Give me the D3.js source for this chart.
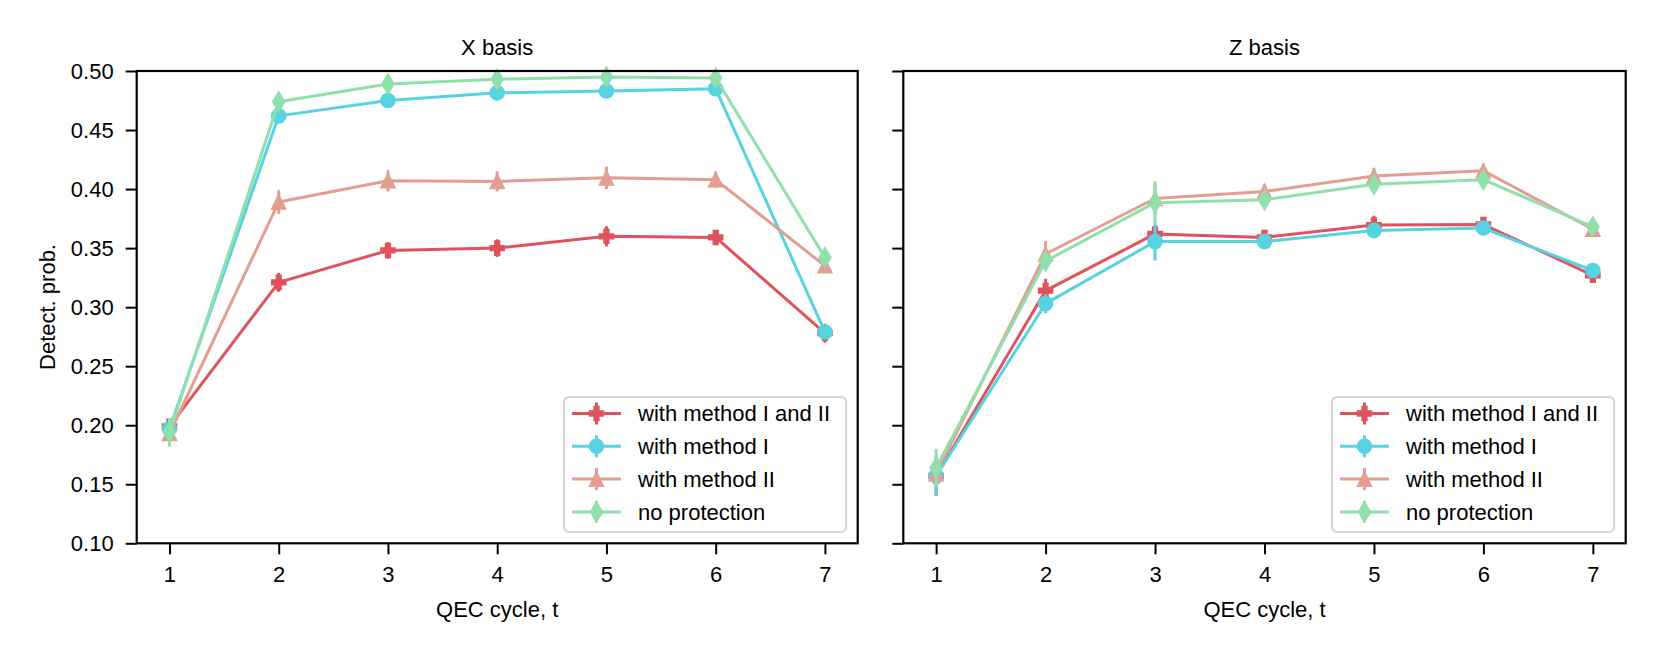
<!DOCTYPE html>
<html>
<head>
<meta charset="utf-8">
<script src="https://cdn.jsdelivr.net/npm/d3@7"></script>
<style>
  html, body { margin: 0; padding: 0; background: #fff; }
  svg { display: block; }
  text { font-family: "Liberation Sans", Arial, Helvetica, sans-serif; fill: #000; }
</style>
</head>
<body>
<svg id="chart" width="1660" height="657"></svg>
<script>
// ---- data ----
const cycles = [1, 2, 3, 4, 5, 6, 7];
const yTicks = [0.10, 0.15, 0.20, 0.25, 0.30, 0.35, 0.40, 0.45, 0.50];
const seriesNames = ["with method I and II", "with method I", "with method II", "no protection"];
const seriesColors = ["#e0535c", "#56d2e0", "#e29e91", "#90e0ab"];
const seriesMarkers = ["plus", "circle", "triangle", "thindiamond"];
const panelTitles = ["X basis", "Z basis"];

// X basis
const xRed    = [0.199, 0.321, 0.348, 0.350, 0.360, 0.359, 0.278];
const xRedErr = [0.006, 0.008, 0.007, 0.0075, 0.0085, 0.005, 0.008];
const xCyan    = [0.197, 0.462, 0.475, 0.4815, 0.483, 0.485, 0.279];
const xCyanErr = [0.005, 0.003, 0.003, 0.003, 0.003, 0.003, 0.003];
const xSalmon    = [0.193, 0.389, 0.407, 0.4065, 0.4095, 0.408, 0.335];
const xSalmonErr = [0.006, 0.010, 0.009, 0.0085, 0.0095, 0.007, 0.005];
const xGreen    = [0.194, 0.474, 0.489, 0.493, 0.495, 0.494, 0.342];
const xGreenErr = [0.012, 0.004, 0.004, 0.003, 0.003, 0.003, 0.004];

// Z basis
const zRed    = [0.157, 0.314, 0.362, 0.359, 0.3695, 0.370, 0.327];
const zRedErr = [0.017, 0.010, 0.007, 0.006, 0.008, 0.006, 0.006];
const zCyan    = [0.157, 0.303, 0.3555, 0.3555, 0.365, 0.367, 0.331];
const zCyanErr = [0.017, 0.008, 0.016, 0.004, 0.005, 0.004, 0.004];
const zSalmon    = [0.159, 0.345, 0.392, 0.398, 0.411, 0.4155, 0.366];
const zSalmonErr = [0.010, 0.011, 0.014, 0.006, 0.007, 0.006, 0.004];
const zGreen    = [0.164, 0.339, 0.3885, 0.391, 0.404, 0.408, 0.368];
const zGreenErr = [0.016, 0.007, 0.018, 0.007, 0.006, 0.005, 0.004];

const panels = [
  { title: panelTitles[0], values: [xRed, xCyan, xSalmon, xGreen], errs: [xRedErr, xCyanErr, xSalmonErr, xGreenErr], x0: 136.7, x1: 857.7, showYLabels: true },
  { title: panelTitles[1], values: [zRed, zCyan, zSalmon, zGreen], errs: [zRedErr, zCyanErr, zSalmonErr, zGreenErr], x0: 903.3, x1: 1625.7, showYLabels: false }
];

// ---- layout ----
const yTop = 71, yBot = 543.3;
const FS = 22;
const LW = 3;
const MEW = 1.6;

const svg = d3.select("#chart");

function markerPath(type) {
  const ms = 14;
  if (type === "circle") return d3.symbol(d3.symbolCircle, Math.PI * (ms / 2) * (ms / 2))();
  if (type === "plus") return d3.symbol(d3.symbolCross, 5 * (ms / 3) * (ms / 3))();
  if (type === "triangle") {
    const h = ms / 2;
    return `M0,${-h}L${h},${h}L${-h},${h}Z`;
  }
  if (type === "thindiamond") {
    const hy = 0.707 * ms, hx = 0.6 * hy;
    return `M0,${-hy}L${hx},0L0,${hy}L${-hx},0Z`;
  }
}

panels.forEach(p => {
  const x = d3.scaleLinear().domain([0.7, 7.3]).range([p.x0, p.x1]);
  const y = d3.scaleLinear().domain([0.10, 0.50]).range([yBot, yTop]);
  const g = svg.append("g");

  // series
  p.values.forEach((vals, si) => {
    const color = seriesColors[si];
    const pts = cycles.map((c, i) => ({ c, v: vals[i], e: p.errs[si][i] }));
    const sg = g.append("g");
    sg.append("path")
      .datum(pts)
      .attr("fill", "none")
      .attr("stroke", color)
      .attr("stroke-width", LW)
      .attr("stroke-linejoin", "round")
      .attr("d", d3.line().x(d => x(d.c)).y(d => y(d.v)));
    sg.selectAll("line.err").data(pts).join("line")
      .attr("class", "err")
      .attr("x1", d => x(d.c)).attr("x2", d => x(d.c))
      .attr("y1", d => y(d.v - d.e)).attr("y2", d => y(d.v + d.e))
      .attr("stroke", color).attr("stroke-width", LW);
    sg.selectAll("path.mk").data(pts).join("path")
      .attr("class", "mk")
      .attr("transform", d => `translate(${x(d.c)},${y(d.v)})`)
      .attr("d", markerPath(seriesMarkers[si]))
      .attr("fill", color).attr("stroke", color).attr("stroke-width", MEW)
      .attr("stroke-linejoin", "miter");
  });

  // axes
  const xAxis = d3.axisBottom(x).tickValues(cycles).tickFormat(d3.format("d")).tickSize(11).tickPadding(12);
  const gx = g.append("g").attr("transform", `translate(0,${yBot})`).call(xAxis);
  const yAxis = d3.axisLeft(y).tickValues(yTicks).tickSize(11).tickPadding(12)
    .tickFormat(p.showYLabels ? d3.format(".2f") : () => "");
  const gy = g.append("g").attr("transform", `translate(${p.x0},0)`).call(yAxis);
  [gx, gy].forEach(ax => {
    ax.select(".domain").remove();
    ax.selectAll(".tick line").attr("stroke", "#000").attr("stroke-width", 2);
    ax.selectAll(".tick text").attr("font-size", FS).attr("fill", "#000")
      .style("font-family", '"Liberation Sans", Arial, sans-serif');
  });

  // frame
  g.append("rect")
    .attr("x", p.x0).attr("y", yTop)
    .attr("width", p.x1 - p.x0).attr("height", yBot - yTop)
    .attr("fill", "none").attr("stroke", "#000").attr("stroke-width", 2.2);

  // title
  g.append("text")
    .attr("x", (p.x0 + p.x1) / 2).attr("y", 55)
    .attr("text-anchor", "middle").attr("font-size", FS)
    .text(p.title);

  // x label
  g.append("text")
    .attr("x", (p.x0 + p.x1) / 2).attr("y", 617)
    .attr("text-anchor", "middle").attr("font-size", FS)
    .text("QEC cycle, t");

  // legend
  const lw = 282, lh = 135;
  const lx = p.x1 - 11.7 - lw, ly = yBot - 11.3 - lh;
  const lg = g.append("g").attr("transform", `translate(${lx},${ly})`);
  lg.append("rect").attr("width", lw).attr("height", lh).attr("rx", 5)
    .attr("fill", "#fff").attr("fill-opacity", 0.8)
    .attr("stroke", "#d6d6d6").attr("stroke-width", 2.2);
  seriesNames.forEach((name, si) => {
    const ry = 16.5 + si * 32.8;
    const color = seriesColors[si];
    const row = lg.append("g").attr("transform", `translate(0,${ry})`);
    row.append("line").attr("x1", 8).attr("x2", 57).attr("y1", 0).attr("y2", 0)
      .attr("stroke", color).attr("stroke-width", LW);
    row.append("line").attr("x1", 32.5).attr("x2", 32.5).attr("y1", -11).attr("y2", 11)
      .attr("stroke", color).attr("stroke-width", LW);
    row.append("path").attr("transform", "translate(32.5,0)")
      .attr("d", markerPath(seriesMarkers[si])).attr("fill", color)
      .attr("stroke", color).attr("stroke-width", MEW);
    row.append("text").attr("x", 74).attr("y", 0).attr("dy", "0.36em")
      .attr("font-size", FS).text(name);
  });
});

// y label
svg.append("text")
  .attr("transform", `translate(55,307) rotate(-90)`)
  .attr("text-anchor", "middle").attr("font-size", FS)
  .text("Detect. prob.");
</script>
</body>
</html>
